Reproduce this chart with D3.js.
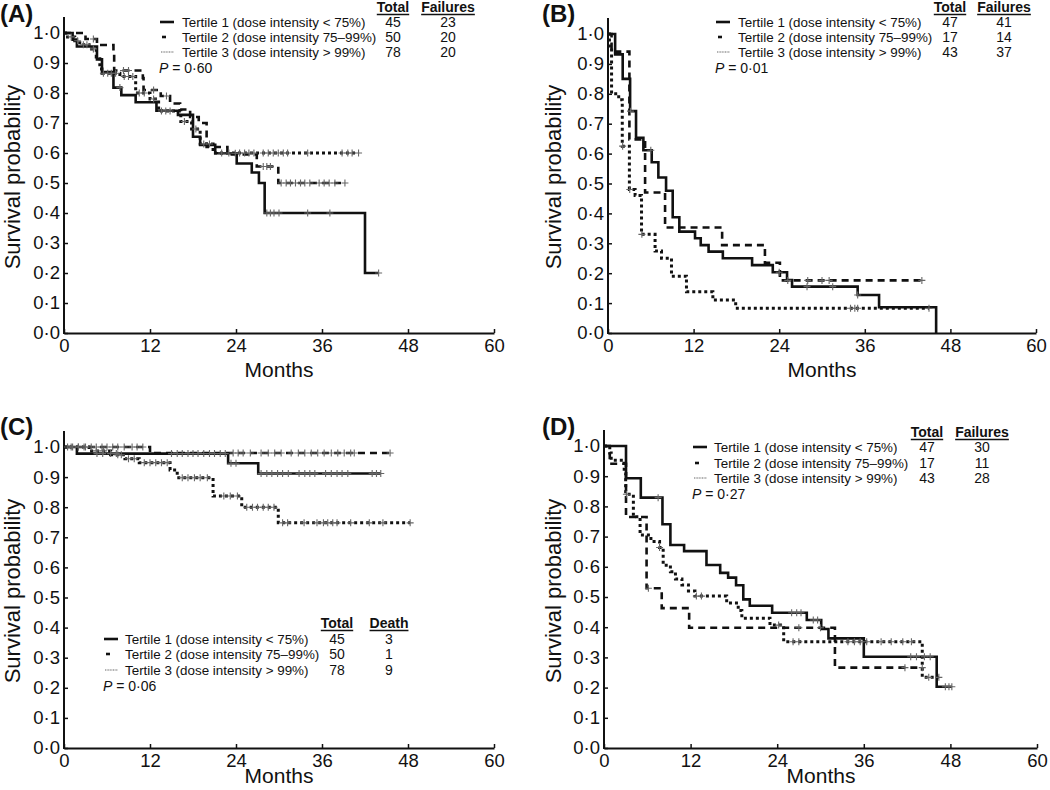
<!DOCTYPE html>
<html><head><meta charset="utf-8">
<script src="https://cdn.jsdelivr.net/npm/d3@7"></script>
<style>
body{margin:0;background:#fff}
text{font-family:"Liberation Sans",Arial,Helvetica,sans-serif;fill:#111}
</style>
</head><body>
<svg id="c" width="1050" height="790"></svg>
<script>
// ---------- shared labels ----------
const monthTicks = [0, 12, 24, 36, 48, 60];
const probTicks = [0, 0.1, 0.2, 0.3, 0.4, 0.5, 0.6, 0.7, 0.8, 0.9, 1.0];
const probLabels = ["0·0","0·1","0·2","0·3","0·4","0·5","0·6","0·7","0·8","0·9","1·0"];
const tertileLabels = ["Tertile 1 (dose intensity < 75%)", "Tertile 2 (dose intensity 75–99%)", "Tertile 3 (dose intensity > 99%)"];
const panelNames = ["(A)", "(B)", "(C)", "(D)"];
const eventHeaders = ["Failures", "Failures", "Death", "Failures"];
const pValues = ["0·60", "0·01", "0·06", "0·27"];
const totalsA = [45, 50, 78], eventsA = [23, 20, 20];
const totalsB = [47, 17, 43], eventsB = [41, 14, 37];
const totalsC = [45, 50, 78], eventsC = [3, 1, 9];
const totalsD = [47, 17, 43], eventsD = [30, 11, 28];

// ---------- Panel A : [month, survival after event] ----------
const aT1 = [[1.2,0.978],[1.8,0.955],[4.6,0.912],[5.3,0.87],[6.9,0.818],[8.0,0.793],[10.0,0.769],[12.9,0.741],[15.9,0.727],[18.0,0.654],[19.0,0.627],[21.1,0.599],[24.1,0.565],[26.2,0.535],[27.2,0.50],[28.0,0.40],[42.0,0.20]];
const aT1End = 43.9;
const aT1Cens = [7.8, 23.9, 28.3, 28.8, 29.3, 30.0, 34.0, 37.1, 43.9];
const aT2 = [[3.0,0.98],[4.6,0.96],[6.9,0.935],[7.0,0.875],[11.0,0.85],[11.1,0.81],[13.5,0.79],[14.8,0.765],[16.2,0.745],[17.6,0.72],[18.8,0.70],[19.9,0.62],[22.8,0.595],[26.9,0.555],[29.9,0.50]];
const aT2End = 39.2;
const aT2Cens = [4.1, 8.3, 9.0, 12.5, 14.3, 27.8, 28.3, 28.8, 30.3, 31.0, 31.6, 32.3, 33.0, 33.6, 34.3, 35.6, 36.3, 37.0, 37.8, 39.2];
const aT3 = [[0.5,0.987],[1.5,0.974],[2.2,0.961],[3.5,0.947],[4.5,0.92],[5.0,0.88],[5.3,0.866],[7.8,0.855],[10.0,0.80],[12.0,0.78],[13.2,0.74],[16.3,0.705],[17.8,0.68],[19.0,0.63],[20.8,0.60]];
const aT3End = 41.1;
const aT3Cens = [1.0, 1.9, 2.7, 3.2, 4.1, 5.5, 6.1, 6.6, 7.2, 8.4, 9.0, 9.6, 10.5, 11.2, 12.5, 13.6, 14.2, 14.8, 16.8, 18.4, 19.5, 20.3, 22.0, 23.0, 24.5, 25.2, 25.8, 26.5, 27.8, 28.5, 29.2, 29.9, 30.6, 31.2, 34.0, 38.8, 39.6, 40.2, 41.1];

// ---------- Panel B ----------
const bT1 = [[1.0,0.932],[2.06,0.85],[3.1,0.742],[3.93,0.653],[4.96,0.611],[6.13,0.571],[7.06,0.52],[8.14,0.476],[9.07,0.387],[10.0,0.339],[12.2,0.317],[13.0,0.294],[14.1,0.272],[16.1,0.25],[20.2,0.227],[23.1,0.203],[25.1,0.177],[25.8,0.155],[35.0,0.127],[38.0,0.086],[46.0,0]];
const bT1End = 46.0;
const bT1Cens = [3.15, 6.0, 24.0, 27.9, 31.5, 35.0];
const bT2 = [[0.5,0.941],[3.0,0.647],[5.2,0.47],[8.0,0.353],[16.0,0.294],[22.0,0.235],[24.1,0.176]];
const bT2End = 44.0;
const bT2Cens = [25.2, 28.0, 30.0, 31.0, 44.0];
const bT3 = [[0.2,0.953],[0.5,0.80],[1.5,0.78],[2.0,0.625],[3.0,0.48],[3.8,0.46],[4.7,0.33],[6.6,0.274],[7.5,0.25],[8.9,0.19],[11.0,0.138],[14.7,0.11],[17.9,0.083]];
const bT3End = 45.0;
const bT3Cens = [2.05, 3.05, 4.75, 34.0, 34.6, 35.0, 45.0];

// ---------- Panel C ----------
const cT1 = [[1.8,0.978],[22.9,0.946],[27.1,0.912]];
const cT1End = 44.2;
const cT1Cens = [4.6, 5.4, 6.5, 7.3, 15.0, 15.8, 16.5, 17.3, 18.0, 18.7, 19.5, 20.3, 21.0, 21.8, 22.5, 23.3, 24.0, 27.5, 28.3, 29.0, 29.8, 30.5, 31.3, 32.8, 33.6, 34.3, 35.0, 36.5, 37.3, 38.1, 38.8, 39.6, 43.0, 43.6, 44.2];
const cT2 = [[12.0,0.98]];
const cT2End = 45.5;
const cT2Cens = [0.5, 1.2, 2.0, 2.8, 3.8, 4.5, 5.3, 6.0, 6.8, 7.5, 8.4, 9.5, 10.2, 11.0, 23.6, 24.3, 25.0, 26.0, 27.5, 28.5, 29.4, 30.3, 31.7, 32.7, 33.6, 34.5, 35.4, 36.3, 37.3, 38.2, 39.1, 40.0, 40.5, 45.5];
const cT3 = [[3.5,0.987],[6.5,0.974],[8.5,0.961],[10.5,0.948],[14.8,0.924],[15.8,0.898],[20.8,0.837],[24.8,0.80],[29.9,0.748]];
const cT3End = 48.3;
const cT3Cens = [1.0, 2.0, 3.0, 4.5, 5.5, 7.5, 8.0, 9.0, 9.8, 11.2, 12.0, 12.8, 13.6, 14.4, 16.5, 17.3, 18.2, 19.0, 20.0, 22.3, 23.2, 24.2, 25.5, 26.3, 27.0, 27.8, 28.5, 29.3, 30.5, 31.2, 33.5, 35.3, 36.2, 36.8, 37.5, 38.1, 40.0, 42.6, 44.5, 48.3];

// ---------- Panel D ----------
const dT1 = [[3.05,0.893],[5.1,0.829],[8.1,0.741],[9.2,0.672],[11.1,0.652],[14.2,0.606],[16.1,0.58],[17.2,0.564],[18.3,0.539],[19.3,0.492],[20.2,0.471],[23.3,0.448],[28.1,0.424],[30.1,0.394],[31.1,0.363],[36.0,0.302],[46.1,0.203]];
const dT1End = 48.2;
const dT1Cens = [7.5, 26.0, 26.7, 27.3, 29.0, 29.6, 42.5, 43.3, 44.4, 45.2, 47.3, 47.8, 48.2];
const dT2 = [[0.8,0.941],[3.05,0.765],[5.9,0.529],[8.0,0.463],[11.8,0.398],[32.0,0.266]];
const dT2End = 44.1;
const dT2Cens = [6.15, 27.0, 30.0, 41.7, 44.1];
const dT3 = [[0.8,0.977],[1.0,0.953],[2.8,0.91],[3.0,0.84],[4.07,0.766],[5.0,0.705],[6.5,0.684],[7.7,0.664],[8.2,0.605],[9.2,0.584],[9.9,0.56],[10.8,0.54],[11.7,0.52],[12.6,0.503],[17.0,0.48],[18.6,0.455],[19.1,0.43],[23.0,0.407],[24.9,0.352],[44.1,0.234]];
const dT3End = 46.4;
const dT3Cens = [3.1, 7.7, 12.8, 13.5, 24.2, 26.2, 27.0, 33.8, 34.7, 35.5, 36.4, 38.4, 39.8, 41.4, 42.6, 45.0, 46.4];

// ---------- layout (positions/styles, not data) ----------
const layouts = [
  {x0:64, x1:494, yTop:33, yBot:333, lab:[0,22], ytx:12, yty:177, mx:279, my:370,
   leg:{hy:12, rows:[27,42,57], py:73, lx:160, tx:182, c1:393, c2:448}},
  {x0:608, x1:1036, yTop:34, yBot:333, lab:[542,22], ytx:553, yty:177, mx:822, my:370,
   leg:{hy:12, rows:[27,42,57], py:73, lx:716, tx:738, c1:950, c2:1004}},
  {x0:64, x1:494, yTop:447, yBot:748, lab:[0,435], ytx:12, yty:591, mx:279, my:776,
   leg:{hy:628, rows:[644,659,675], py:691, lx:104, tx:125, c1:337, c2:389}},
  {x0:604, x1:1037, yTop:446, yBot:748, lab:[542,435], ytx:553, yty:591, mx:821, my:776,
   leg:{hy:437, rows:[452,468,483], py:499, lx:693, tx:714, c1:927, c2:982}}
];
const styles = [
  {dash:null, w:2.6},
  {dash:"7,5", w:2.6},
  {dash:"3,3", w:3}
];

const panels = [
  {series:[[aT1,aT1End,aT1Cens],[aT2,aT2End,aT2Cens],[aT3,aT3End,aT3Cens]], totals:totalsA, events:eventsA},
  {series:[[bT1,bT1End,bT1Cens],[bT2,bT2End,bT2Cens],[bT3,bT3End,bT3Cens]], totals:totalsB, events:eventsB},
  {series:[[cT1,cT1End,cT1Cens],[cT2,cT2End,cT2Cens],[cT3,cT3End,cT3Cens]], totals:totalsC, events:eventsC},
  {series:[[dT1,dT1End,dT1Cens],[dT2,dT2End,dT2Cens],[dT3,dT3End,dT3Cens]], totals:totalsD, events:eventsD}
];

const svg = d3.select("#c");

function survAt(steps, t){
  let s = 1;
  for (const [tt, ss] of steps) if (tt <= t) s = ss;
  return s;
}

panels.forEach((p, i) => {
  const L = layouts[i];
  const x = d3.scaleLinear().domain([0, 60]).range([L.x0, L.x1]);
  const y = d3.scaleLinear().domain([0, 1]).range([L.yBot, L.yTop]);
  const g = svg.append("g");

  // axes
  const xa = g.append("g").attr("transform", `translate(0,${L.yBot})`)
    .call(d3.axisBottom(x).tickValues(monthTicks).tickSizeInner(-4).tickSizeOuter(0).tickPadding(6));
  const ya = g.append("g").attr("transform", `translate(${L.x0},0)`)
    .call(d3.axisLeft(y).tickValues(probTicks).tickFormat((d, k) => probLabels[k]).tickSizeInner(-4).tickSizeOuter(0).tickPadding(4));
  ya.select(".domain").remove();
  g.append("line").attr("x1", L.x0).attr("x2", L.x0).attr("y1", L.yBot + 1).attr("y2", L.yTop - 16)
    .attr("stroke", "#111").attr("stroke-width", 2);
  [xa, ya].forEach(a => {
    a.selectAll("text").style("font-size", "18.5px").attr("fill", "#111");
    a.selectAll("line").attr("stroke", "#111").attr("stroke-width", 1.5);
  });
  xa.select(".domain").attr("stroke", "#111").attr("stroke-width", 2);

  // titles
  g.append("text").attr("x", L.lab[0]).attr("y", L.lab[1]).text(panelNames[i])
    .style("font-size", "24px").style("font-weight", "bold");
  g.append("text").attr("transform", `translate(${L.ytx},${L.yty}) rotate(-90)`)
    .attr("text-anchor", "middle").attr("dy", "0.35em").style("font-size", "22px").text("Survival probability");
  g.append("text").attr("x", L.mx).attr("y", L.my).attr("text-anchor", "middle").attr("dy", "0.35em")
    .style("font-size", "21px").text("Months");

  // curves (draw T3, T2, T1 so solid is on top)
  const line = d3.line().x(d => x(d[0])).y(d => y(d[1])).curve(d3.curveStepAfter);
  [2, 1, 0].forEach(k => {
    const [steps, end] = p.series[k];
    const pts = [[0, 1], ...steps];
    const last = pts[pts.length - 1];
    if (end > last[0]) pts.push([end, last[1]]);
    g.append("path").attr("d", line(pts)).attr("fill", "none").attr("stroke", "#111")
      .attr("stroke-width", styles[k].w).attr("stroke-dasharray", styles[k].dash)
      .attr("stroke-linejoin", "miter");
  });
  // censor marks
  [2, 1, 0].forEach(k => {
    const [steps, , cens] = p.series[k];
    g.append("g").selectAll("path").data(cens).join("path")
      .attr("d", t => {
        const cx = x(t), cy = y(survAt(steps, t));
        return `M${cx - 3.5},${cy}H${cx + 3.5}M${cx},${cy - 3.5}V${cy + 3.5}`;
      })
      .attr("stroke", "#666").attr("stroke-width", 1.1).attr("fill", "none");
  });

  // legend
  const G = L.leg;
  const hdr = [["Total", G.c1], [eventHeaders[i], G.c2]];
  hdr.forEach(([t, cx]) => {
    const tx = g.append("text").attr("x", cx).attr("y", G.hy).attr("text-anchor", "middle")
      .style("font-size", "14px").style("font-weight", "bold").text(t);
    const w = tx.node().getComputedTextLength();
    g.append("line").attr("x1", cx - w / 2).attr("x2", cx + w / 2).attr("y1", G.hy + 2.5).attr("y2", G.hy + 2.5)
      .attr("stroke", "#111").attr("stroke-width", 1.3);
  });
  tertileLabels.forEach((lab, k) => {
    const yy = G.rows[k];
    if (k === 0) g.append("line").attr("x1", G.lx).attr("x2", G.lx + 14).attr("y1", yy - 5).attr("y2", yy - 5)
      .attr("stroke", "#111").attr("stroke-width", 2.6);
    if (k === 1) g.append("line").attr("x1", G.lx + 2).attr("x2", G.lx + 6).attr("y1", yy - 5).attr("y2", yy - 5)
      .attr("stroke", "#111").attr("stroke-width", 2.6);
    if (k === 2) g.append("line").attr("x1", G.lx + 1).attr("x2", G.lx + 14).attr("y1", yy - 5).attr("y2", yy - 5)
      .attr("stroke", "#999").attr("stroke-width", 1.6).attr("stroke-dasharray", "1,0.6");
    g.append("text").attr("x", G.tx).attr("y", yy).style("font-size", "13.4px").text(lab);
    g.append("text").attr("x", G.c1).attr("y", yy).attr("text-anchor", "middle").style("font-size", "14px").text(p.totals[k]);
    g.append("text").attr("x", G.c2).attr("y", yy).attr("text-anchor", "middle").style("font-size", "14px").text(p.events[k]);
  });
  const pt = g.append("text").attr("x", G.lx - 1).attr("y", G.py).style("font-size", "14px");
  pt.append("tspan").style("font-style", "italic").text("P");
  pt.append("tspan").text(" = " + pValues[i]);
});
</script>
</body></html>
